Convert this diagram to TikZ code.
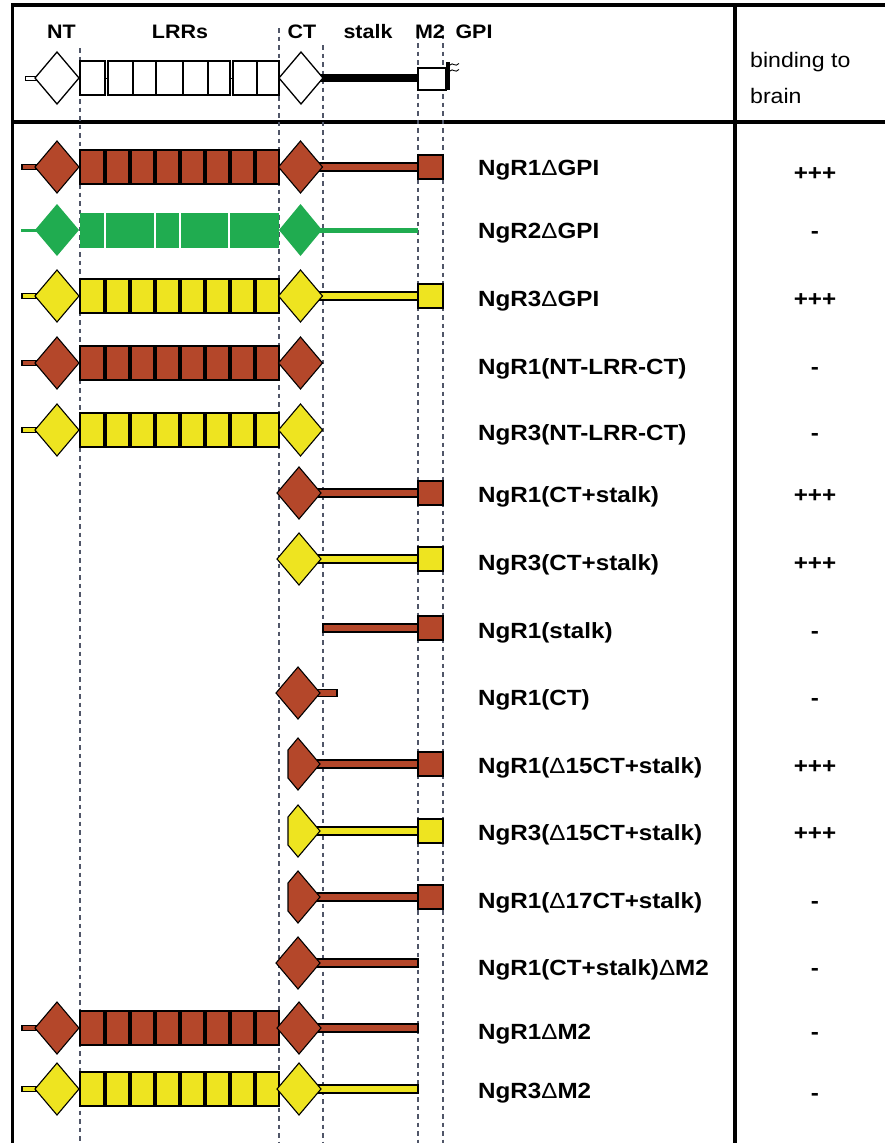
\documentclass[tikz,border=0pt]{standalone}
\usepackage{fontspec}
\setmainfont{Liberation Sans}
\newfontfamily\widesans[FakeStretch=1.1]{Liberation Sans}
\definecolor{ngbrown}{RGB}{180,71,42}
\definecolor{ngyellow}{RGB}{238,228,32}
\definecolor{nggreen}{RGB}{32,172,80}
\definecolor{guide}{RGB}{80,86,104}

% domain building blocks (x in px from the left, y in px from the top)
\newcommand\ntstub[2]{\filldraw[fill=#2,draw=black,line width=1.2pt] (22,#1-2.5) rectangle (36,#1+2.5);}
\newcommand\diamondat[3]{\filldraw[fill=#3,draw=black,line width=1.1pt,line join=miter]
  (#1-22,#2) -- (#1,#2-26) -- (#1+22,#2) -- (#1,#2+26) -- cycle;}
\newcommand\lrrblock[2]{\filldraw[fill=#2,draw=black,line width=2pt] (80,#1-17) rectangle (279,#1+17);
  \foreach \sx in {105,130,...,255} \draw[line width=3.2pt] (\sx,#1-17) -- (\sx,#1+17);}
\newcommand\stalkbar[3]{\filldraw[fill=#3,draw=black,line width=1.2pt] (#2,#1-4) rectangle (418,#1+4);}
\newcommand\mtwo[2]{\filldraw[fill=#2,draw=black,line width=1.4pt] (418,#1-12) rectangle (443,#1+12);}
\newcommand\cutct[2]{\filldraw[fill=#2,draw=black,line width=1.1pt,line join=miter]
  (288,#1-14) -- (298,#1-26) -- (320,#1) -- (298,#1+26) -- (288,#1+14) -- cycle;}
\newcommand\dlt{{\mdseries Δ}}

\begin{document}
\begin{tikzpicture}[x=1pt,y=-1pt,
  frame/.style={line width=3.5pt,black},
  guideline/.style={guide,line width=1.3pt,dash pattern=on 4.5pt off 4pt},
  hdr/.style={anchor=base,inner sep=0pt,font=\widesans\bfseries\fontsize{19.5}{21}\selectfont},
  lbl/.style={anchor=base west,inner sep=0pt,font=\widesans\bfseries\fontsize{22}{24}\selectfont},
  bind/.style={anchor=base,inner sep=0pt,font=\widesans\bfseries\fontsize{22}{24}\selectfont},
  bindhead/.style={anchor=base west,inner sep=0pt,font=\widesans\fontsize{21}{23}\selectfont},
  outline/.style={draw=black,fill=white,line width=1.3pt}]
\useasboundingbox (0,0) rectangle (885,1143);
\fill[white] (0,0) rectangle (885,1143);

% table frame
\draw[frame] (885,5) -- (12.5,5) -- (12.5,1143);
\draw[frame] (12.5,122) -- (885,122);
\draw[frame] (735,5) -- (735,1143);

% domain boundary guides
\draw[guideline] (80,48) -- (80,1143);
\draw[guideline] (279,28) -- (279,1143);
\draw[guideline] (323,45) -- (323,1143);
\draw[guideline] (418,26) -- (418,1143);
\draw[guideline] (443,26) -- (443,1143);

% header labels
\node[hdr] (hNT) at (61.5,38) {NT};
\node[hdr] (hLRR) at (180,38) {LRRs};
\node[hdr] (hCT) at (302,38) {CT};
\node[hdr] (hstalk) at (368,38) {stalk};
\node[hdr] (hM2) at (430,38) {M2};
\node[hdr] (hGPI) at (474,38) {GPI};
\node[bindhead] (hbind1) at (750,67) {binding to};
\node[bindhead] (hbind2) at (750,103) {brain};

% header schematic
\draw[outline,line width=1pt] (25,76) rectangle (37,80);
\draw[outline] (35,78) -- (57,52) -- (79,78) -- (57,104) -- cycle;
\draw[outline] (80,61) rectangle (105,95);
\draw[outline] (108,61) rectangle (230,95);
\draw[outline] (233,61) rectangle (279,95);
\foreach \sx in {133,156,183,208,257} \draw[line width=1.4pt] (\sx,61) -- (\sx,95);
\draw[line width=1pt] (105,78) -- (108,78) (230,78) -- (233,78);
\draw[line width=8pt] (320,78) -- (418,78);
\draw[outline] (279,78) -- (301,52) -- (323,78) -- (301,104) -- cycle;
\draw[outline] (418,68) rectangle (446,90);
\fill[black] (445.5,62) rectangle (450,90);
\draw[line width=0.9pt] (450,65) .. controls (453,61.5) and (455,68) .. (459,63.5);
\draw[line width=0.9pt] (450,71) .. controls (453,67.5) and (455,74) .. (459,69.5);

% row 1: NgR1 dGPI
\ntstub{167}{ngbrown}\diamondat{57}{167}{ngbrown}\lrrblock{167}{ngbrown}
\stalkbar{167}{318}{ngbrown}\diamondat{300.5}{167}{ngbrown}\mtwo{167}{ngbrown}

% row 2: NgR2 dGPI (no outlines)
\draw[nggreen,line width=3pt] (21,230) -- (40,230);
\fill[nggreen] (35,230) -- (57,204) -- (79,230) -- (57,256) -- cycle;
\fill[nggreen] (80,213) rectangle (279,248);
\foreach \sx in {105,155,180,229} \draw[white,line width=1.5pt] (\sx,213) -- (\sx,248);
\draw[nggreen,line width=5pt] (315,230) -- (418,230);
\fill[nggreen] (279,230) -- (300.5,204) -- (322,230) -- (300.5,256) -- cycle;

% row 3: NgR3 dGPI
\ntstub{296}{ngyellow}\diamondat{57}{296}{ngyellow}\lrrblock{296}{ngyellow}
\stalkbar{296}{318}{ngyellow}\diamondat{300.5}{296}{ngyellow}\mtwo{296}{ngyellow}

% row 4: NgR1(NT-LRR-CT)
\ntstub{363}{ngbrown}\diamondat{57}{363}{ngbrown}\lrrblock{363}{ngbrown}\diamondat{300.5}{363}{ngbrown}

% row 5: NgR3(NT-LRR-CT)
\ntstub{430}{ngyellow}\diamondat{57}{430}{ngyellow}\lrrblock{430}{ngyellow}\diamondat{300.5}{430}{ngyellow}

% row 6: NgR1(CT+stalk)
\stalkbar{493}{316}{ngbrown}\diamondat{299}{493}{ngbrown}\mtwo{493}{ngbrown}

% row 7: NgR3(CT+stalk)
\stalkbar{559}{316}{ngyellow}\diamondat{299}{559}{ngyellow}\mtwo{559}{ngyellow}

% row 8: NgR1(stalk)
\stalkbar{628}{323}{ngbrown}\mtwo{628}{ngbrown}

% row 9: NgR1(CT)
\filldraw[fill=ngbrown,draw=black,line width=1.1pt] (314,689.5) rectangle (337,696.5);
\diamondat{298}{693}{ngbrown}

% row 10: NgR1(d15CT+stalk)
\stalkbar{764}{314}{ngbrown}\cutct{764}{ngbrown}\mtwo{764}{ngbrown}

% row 11: NgR3(d15CT+stalk)
\stalkbar{831}{314}{ngyellow}\cutct{831}{ngyellow}\mtwo{831}{ngyellow}

% row 12: NgR1(d17CT+stalk)
\stalkbar{897}{314}{ngbrown}\cutct{897}{ngbrown}\mtwo{897}{ngbrown}

% row 13: NgR1(CT+stalk) dM2
\stalkbar{963}{314}{ngbrown}\diamondat{298}{963}{ngbrown}

% row 14: NgR1 dM2
\ntstub{1028}{ngbrown}\diamondat{57}{1028}{ngbrown}\lrrblock{1028}{ngbrown}
\stalkbar{1028}{316}{ngbrown}\diamondat{299}{1028}{ngbrown}

% row 15: NgR3 dM2
\ntstub{1089}{ngyellow}\diamondat{57}{1089}{ngyellow}\lrrblock{1089}{ngyellow}
\stalkbar{1089}{316}{ngyellow}\diamondat{299}{1089}{ngyellow}

% construct names
\node[lbl] (n1) at (478,175) {NgR1\dlt GPI};
\node[lbl] (n2) at (478,238) {NgR2\dlt GPI};
\node[lbl] (n3) at (478,306) {NgR3\dlt GPI};
\node[lbl] (n4) at (478,374) {NgR1(NT-LRR-CT)};
\node[lbl] (n5) at (478,440) {NgR3(NT-LRR-CT)};
\node[lbl] (n6) at (478,502) {NgR1(CT+stalk)};
\node[lbl] (n7) at (478,570) {NgR3(CT+stalk)};
\node[lbl] (n8) at (478,638) {NgR1(stalk)};
\node[lbl] (n9) at (478,705) {NgR1(CT)};
\node[lbl] (n10) at (478,773) {NgR1(\dlt 15CT+stalk)};
\node[lbl] (n11) at (478,840) {NgR3(\dlt 15CT+stalk)};
\node[lbl] (n12) at (478,908) {NgR1(\dlt 17CT+stalk)};
\node[lbl] (n13) at (478,975) {NgR1(CT+stalk)\dlt M2};
\node[lbl] (n14) at (478,1039) {NgR1\dlt M2};
\node[lbl] (n15) at (478,1098) {NgR3\dlt M2};

% binding results
\node[bind] (r1) at (815,180) {+++};
\node[bind] (r2) at (815,238) {-};
\node[bind] (r3) at (815,306) {+++};
\node[bind] (r4) at (815,374) {-};
\node[bind] (r5) at (815,440) {-};
\node[bind] (r6) at (815,502) {+++};
\node[bind] (r7) at (815,570) {+++};
\node[bind] (r8) at (815,638) {-};
\node[bind] (r9) at (815,705) {-};
\node[bind] (r10) at (815,773) {+++};
\node[bind] (r11) at (815,840) {+++};
\node[bind] (r12) at (815,908) {-};
\node[bind] (r13) at (815,975) {-};
\node[bind] (r14) at (815,1039) {-};
\node[bind] (r15) at (815,1100) {-};
\end{tikzpicture}
\end{document}
